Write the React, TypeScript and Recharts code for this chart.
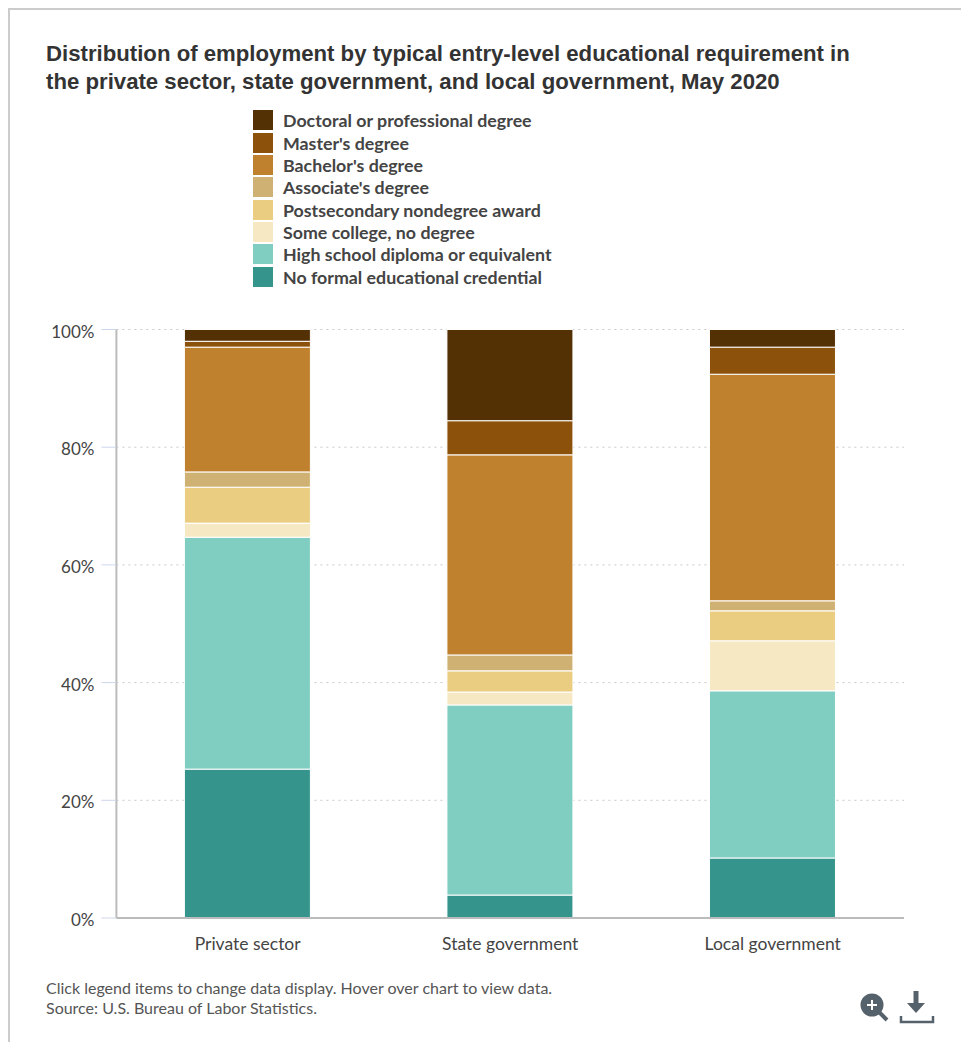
import { BarChart, Bar, XAxis, YAxis, CartesianGrid, Legend } from 'recharts';

const sectors = ['Private sector', 'State government', 'Local government'];

const noFormal = [25.3, 3.9, 10.2];
const highSchool = [39.4, 32.3, 28.4];
const someCollege = [2.4, 2.2, 8.5];
const postsecondary = [6.1, 3.6, 5.1];
const associates = [2.6, 2.7, 1.7];
const bachelors = [21.2, 34.0, 38.5];
const masters = [1.0, 5.8, 4.6];
const doctoral = [2.0, 15.5, 3.0];

const yTicks = [0, 20, 40, 60, 80, 100];

// stacked bottom to top
const seriesList = [
  { name: 'No formal educational credential', values: noFormal, color: '#35948c' },
  { name: 'High school diploma or equivalent', values: highSchool, color: '#80cdc1' },
  { name: 'Some college, no degree', values: someCollege, color: '#f6e8c3' },
  { name: 'Postsecondary nondegree award', values: postsecondary, color: '#ebcd82' },
  { name: "Associate's degree", values: associates, color: '#cfb273' },
  { name: "Bachelor's degree", values: bachelors, color: '#bf812d' },
  { name: "Master's degree", values: masters, color: '#8c510a' },
  { name: 'Doctoral or professional degree', values: doctoral, color: '#543005' },
];

const tableData = sectors.map((sector, i) => {
  const row: Record<string, any> = { sector };
  seriesList.forEach((s) => {
    row[s.name] = s.values[i];
  });
  return row;
});

const bodyFont = 'Lato, sans-serif';

// legend reads top to bottom, opposite to the stacking order
function LegendList() {
  const items = [...seriesList].reverse();
  return (
    <div>
      {items.map((item) => (
        <div key={item.name} style={{ display: 'flex', alignItems: 'center', height: 22.35 }}>
          <span style={{ width: 20, height: 20, background: item.color, marginRight: 10, flex: 'none' }} />
          <span style={{ fontFamily: bodyFont, fontSize: 17.8, fontWeight: 700, color: '#444', whiteSpace: 'nowrap' }}>
            {item.name}
          </span>
        </div>
      ))}
    </div>
  );
}

function ToolIcons() {
  return (
    <svg width={80} height={40} style={{ position: 'absolute', left: 858, top: 988 }}>
      <circle cx={14} cy={17} r={10} fill="#56626b" stroke="#56626b" strokeWidth={3} />
      <path d="M14 12v10M9 17h10" stroke="#fff" strokeWidth={2} />
      <path d="M21 24l8 8" stroke="#56626b" strokeWidth={4} />
      <path d="M58 3v14" stroke="#56626b" strokeWidth={5} />
      <path d="M49 15h18l-9 10z" fill="#56626b" />
      <path d="M43 28v6h32v-6" fill="none" stroke="#56626b" strokeWidth={2.5} />
    </svg>
  );
}

export default function App() {
  return (
    <div style={{ position: 'absolute', left: 0, top: 0, width: 961, height: 1042, background: '#fff', overflow: 'hidden' }}>
      <div style={{ position: 'absolute', left: 8, top: 8, right: 0, bottom: 0, borderLeft: '2px solid #ccc', borderTop: '2px solid #ccc' }} />
      <div
        style={{
          position: 'absolute',
          left: 46,
          top: 40,
          fontFamily: '"Liberation Sans", Arial, sans-serif',
          fontWeight: 700,
          fontSize: 22.2,
          lineHeight: '28px',
          color: '#333',
          whiteSpace: 'nowrap',
        }}
      >
        Distribution of employment by typical entry-level educational requirement in
        <br />
        the private sector, state government, and local government, May 2020
      </div>

      <BarChart
        width={961}
        height={1042}
        data={tableData}
        margin={{ top: 329.5, right: 57, bottom: 94, left: 56.4 }}
        barSize={126}
        style={{ position: 'absolute', left: 0, top: 0 }}
      >
        <CartesianGrid vertical={false} stroke="#c8c8c8" strokeDasharray="2 4" />
        <XAxis
          dataKey="sector"
          tickLine={false}
          axisLine={{ stroke: '#bbb', strokeWidth: 2 }}
          tick={{ fontFamily: bodyFont, fontSize: 17.5, fill: '#444' }}
          tickMargin={14}
          height={30}
        />
        <YAxis
          width={60}
          domain={[0, 100]}
          ticks={yTicks}
          tickFormatter={(v: number) => `${v}%`}
          axisLine={{ stroke: '#bbb', strokeWidth: 2 }}
          tickLine={{ stroke: '#ccd6eb' }}
          tickSize={15}
          tickMargin={7}
          tick={{ fontFamily: bodyFont, fontSize: 17, fill: '#444', dy: 2 }}
        />
        <Legend
          content={<LegendList />}
          layout="vertical"
          verticalAlign="middle"
          align="center"
          wrapperStyle={{ left: 253, top: 109, width: 340 }}
        />
        {seriesList.map((s) => (
          <Bar
            key={s.name}
            dataKey={s.name}
            stackId="share"
            fill={s.color}
            stroke="#fff"
            strokeWidth={1}
            isAnimationActive={false}
          />
        ))}
      </BarChart>

      <div
        style={{
          position: 'absolute',
          left: 46,
          top: 978,
          fontFamily: bodyFont,
          fontSize: 16,
          lineHeight: '20px',
          color: '#555',
          whiteSpace: 'nowrap',
        }}
      >
        Click legend items to change data display. Hover over chart to view data.
        <br />
        Source: U.S. Bureau of Labor Statistics.
      </div>
      <ToolIcons />
    </div>
  );
}
